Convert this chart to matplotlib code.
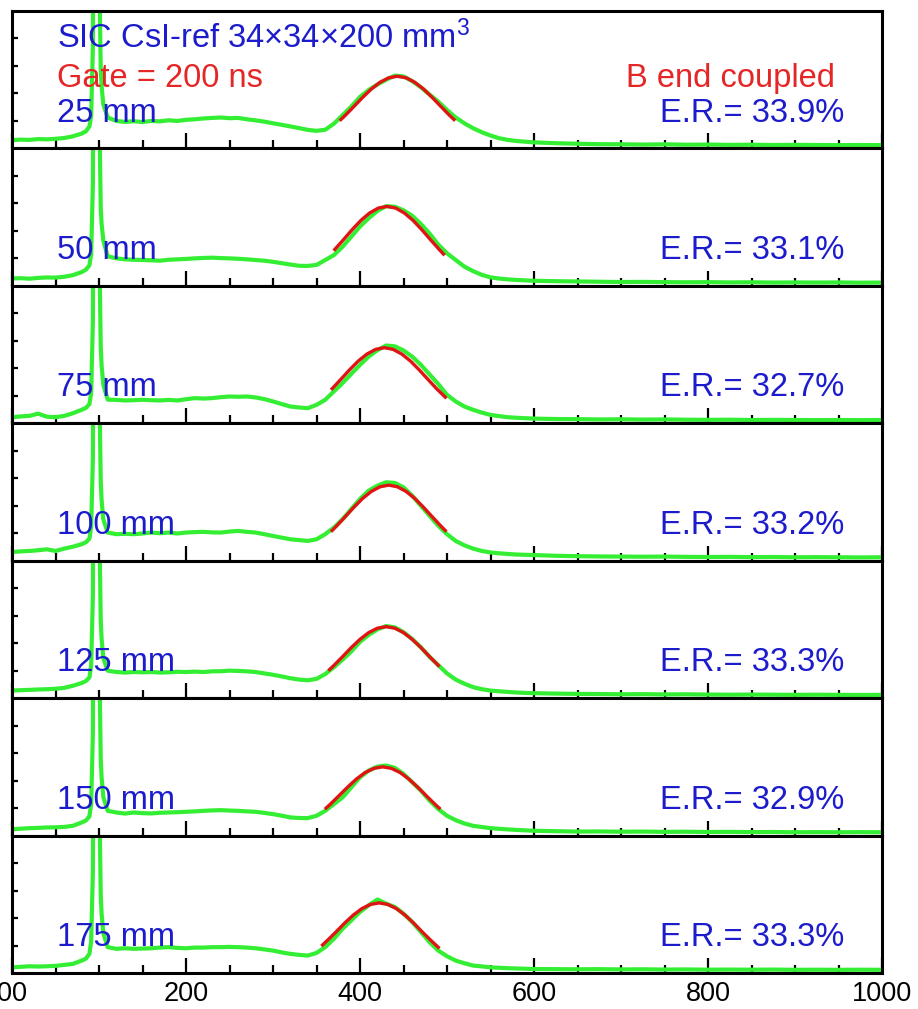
import matplotlib.pyplot as plt
from matplotlib.ticker import MultipleLocator

plt.rcParams['font.family'] = ['Liberation Sans', 'DejaVu Sans']
plt.rcParams['mathtext.fontset'] = 'custom'
plt.rcParams['mathtext.rm'] = 'Liberation Sans'
plt.rcParams['mathtext.default'] = 'regular'

# channel grid (finer around the 100-channel spike)
channels = [0, 10, 20, 30, 40, 50, 60, 70, 80,
            85, 89, 91, 93, 94, 100, 101, 102, 103, 105,
            110, 120, 130, 140, 150, 160, 170, 180, 190, 200,
            210, 220, 230, 240, 250, 260, 270, 280, 290, 300,
            310, 320, 330, 340, 350, 360, 370, 380, 390, 400,
            410, 420, 430, 440, 450, 460, 470, 480, 490, 500,
            510, 520, 530, 540, 550, 560, 570, 580, 590, 600,
            625, 650, 675, 700, 725, 750, 775, 800, 825, 850,
            875, 900, 925, 950, 975, 1000]

# normalised counts (panel height = 1)
counts_25 = [0.060, 0.064, 0.062, 0.068, 0.066, 0.070, 0.076, 0.088, 0.108,
             0.125, 0.16, 0.24, 0.75, 3.0, 3.0, 1.0, 0.58, 0.45, 0.32,
             0.225, 0.200, 0.193, 0.198, 0.192, 0.200, 0.197, 0.205, 0.200, 0.208,
             0.212, 0.218, 0.222, 0.225, 0.220, 0.222, 0.212, 0.204, 0.195, 0.183,
             0.172, 0.160, 0.148, 0.135, 0.128, 0.136, 0.180, 0.242, 0.305, 0.375,
             0.425, 0.465, 0.500, 0.530, 0.524, 0.490, 0.445, 0.392, 0.340, 0.280,
             0.225, 0.183, 0.147, 0.118, 0.094, 0.074, 0.062, 0.054, 0.049, 0.044,
             0.038, 0.034, 0.031, 0.030, 0.028, 0.030, 0.027, 0.028, 0.026, 0.027,
             0.025, 0.026, 0.025, 0.024, 0.025, 0.024]
counts_50 = [0.054, 0.056, 0.052, 0.058, 0.061, 0.060, 0.066, 0.078, 0.100,
             0.118, 0.15, 0.23, 0.75, 3.0, 3.0, 1.0, 0.57, 0.45, 0.33,
             0.215, 0.200, 0.193, 0.190, 0.188, 0.186, 0.183, 0.190, 0.193, 0.196,
             0.200, 0.203, 0.205, 0.202, 0.200, 0.197, 0.193, 0.188, 0.183, 0.175,
             0.165, 0.155, 0.146, 0.145, 0.152, 0.188, 0.224, 0.285, 0.358, 0.432,
             0.493, 0.545, 0.580, 0.576, 0.550, 0.510, 0.450, 0.380, 0.300, 0.237,
             0.188, 0.140, 0.107, 0.080, 0.062, 0.053, 0.047, 0.043, 0.040, 0.037,
             0.034, 0.032, 0.030, 0.028, 0.029, 0.027, 0.026, 0.027, 0.025, 0.026,
             0.024, 0.025, 0.024, 0.025, 0.023, 0.024]
counts_75 = [0.044, 0.050, 0.054, 0.070, 0.048, 0.044, 0.054, 0.073, 0.098,
             0.112, 0.14, 0.22, 0.75, 3.0, 3.0, 1.0, 0.56, 0.42, 0.28,
             0.172, 0.170, 0.166, 0.168, 0.171, 0.168, 0.166, 0.170, 0.166, 0.175,
             0.183, 0.180, 0.183, 0.190, 0.195, 0.193, 0.195, 0.188, 0.176, 0.159,
             0.140, 0.122, 0.115, 0.110, 0.134, 0.171, 0.232, 0.293, 0.360, 0.425,
             0.486, 0.532, 0.566, 0.560, 0.530, 0.485, 0.425, 0.355, 0.285, 0.207,
             0.159, 0.122, 0.098, 0.078, 0.061, 0.052, 0.044, 0.040, 0.037, 0.034,
             0.031, 0.030, 0.028, 0.029, 0.027, 0.028, 0.026, 0.025, 0.026, 0.024,
             0.025, 0.024, 0.023, 0.024, 0.023, 0.024]
counts_100 = [0.063, 0.068, 0.071, 0.076, 0.083, 0.071, 0.088, 0.102, 0.120,
              0.135, 0.16, 0.25, 0.75, 3.0, 3.0, 1.0, 0.58, 0.44, 0.30,
              0.205, 0.193, 0.196, 0.193, 0.198, 0.205, 0.200, 0.205, 0.198, 0.205,
              0.208, 0.210, 0.206, 0.205, 0.212, 0.217, 0.210, 0.205, 0.193, 0.180,
              0.168, 0.156, 0.150, 0.144, 0.156, 0.193, 0.241, 0.302, 0.376, 0.449,
              0.510, 0.546, 0.571, 0.566, 0.534, 0.473, 0.400, 0.327, 0.254, 0.193,
              0.144, 0.112, 0.088, 0.071, 0.060, 0.054, 0.049, 0.045, 0.043, 0.041,
              0.036, 0.033, 0.031, 0.030, 0.029, 0.030, 0.028, 0.027, 0.028, 0.026,
              0.027, 0.025, 0.026, 0.025, 0.024, 0.025]
counts_125 = [0.055, 0.058, 0.060, 0.063, 0.065, 0.068, 0.075, 0.090, 0.110,
              0.125, 0.15, 0.24, 0.75, 3.0, 3.0, 1.0, 0.57, 0.43, 0.29,
              0.200, 0.190, 0.186, 0.190, 0.188, 0.190, 0.186, 0.188, 0.192, 0.190,
              0.193, 0.190, 0.195, 0.196, 0.200, 0.198, 0.195, 0.190, 0.180, 0.170,
              0.158, 0.145, 0.135, 0.130, 0.140, 0.175, 0.225, 0.280, 0.340, 0.410,
              0.460, 0.500, 0.525, 0.515, 0.480, 0.430, 0.370, 0.300, 0.240, 0.180,
              0.135, 0.105, 0.080, 0.065, 0.055, 0.050, 0.045, 0.041, 0.038, 0.036,
              0.033, 0.031, 0.030, 0.028, 0.029, 0.027, 0.028, 0.026, 0.025, 0.026,
              0.025, 0.024, 0.025, 0.024, 0.023, 0.024]
counts_150 = [0.046, 0.050, 0.054, 0.056, 0.059, 0.060, 0.063, 0.071, 0.095,
              0.110, 0.14, 0.23, 0.75, 3.0, 3.0, 1.0, 0.56, 0.42, 0.28,
              0.180, 0.168, 0.160, 0.168, 0.163, 0.161, 0.166, 0.168, 0.170, 0.173,
              0.176, 0.180, 0.183, 0.185, 0.182, 0.180, 0.176, 0.173, 0.165, 0.156,
              0.145, 0.132, 0.128, 0.127, 0.144, 0.180, 0.229, 0.278, 0.351, 0.424,
              0.473, 0.502, 0.510, 0.493, 0.449, 0.388, 0.327, 0.254, 0.193, 0.144,
              0.112, 0.088, 0.071, 0.062, 0.054, 0.049, 0.045, 0.041, 0.038, 0.035,
              0.032, 0.029, 0.030, 0.028, 0.029, 0.027, 0.028, 0.026, 0.027, 0.025,
              0.026, 0.024, 0.025, 0.024, 0.025, 0.024]
counts_175 = [0.041, 0.045, 0.049, 0.047, 0.049, 0.052, 0.059, 0.066, 0.090,
              0.105, 0.14, 0.23, 0.75, 3.0, 3.0, 1.0, 0.57, 0.43, 0.29,
              0.188, 0.176, 0.180, 0.176, 0.178, 0.180, 0.185, 0.188, 0.183, 0.180,
              0.185, 0.185, 0.188, 0.188, 0.190, 0.188, 0.185, 0.180, 0.172, 0.163,
              0.150, 0.139, 0.132, 0.127, 0.146, 0.188, 0.249, 0.322, 0.383, 0.444,
              0.493, 0.535, 0.505, 0.480, 0.432, 0.371, 0.298, 0.224, 0.163, 0.122,
              0.090, 0.071, 0.054, 0.048, 0.041, 0.038, 0.035, 0.033, 0.031, 0.029,
              0.028, 0.027, 0.028, 0.026, 0.027, 0.025, 0.026, 0.024, 0.025, 0.024,
              0.025, 0.023, 0.024, 0.023, 0.024, 0.023]

# red photopeak fits
fit_x_25 = [378, 383, 393, 403, 413, 423, 433, 443, 453, 463, 473, 483, 493, 503, 508]
fit_y_25 = [0.210, 0.240, 0.305, 0.371, 0.432, 0.481, 0.514, 0.525, 0.514, 0.481, 0.432, 0.371, 0.305, 0.240, 0.210]
fit_x_50 = [371, 381, 391, 401, 411, 421, 431, 441, 451, 461, 471, 481, 491, 496]
fit_y_50 = [0.265, 0.336, 0.409, 0.476, 0.530, 0.566, 0.578, 0.566, 0.530, 0.476, 0.409, 0.336, 0.265, 0.231]
fit_x_75 = [368, 378, 388, 398, 408, 418, 428, 438, 448, 458, 468, 478, 488, 498]
fit_y_75 = [0.252, 0.320, 0.389, 0.453, 0.504, 0.538, 0.550, 0.538, 0.504, 0.453, 0.389, 0.320, 0.252, 0.190]
fit_x_100 = [368, 373, 383, 393, 403, 413, 423, 433, 443, 453, 463, 473, 483, 493, 498]
fit_y_100 = [0.220, 0.252, 0.320, 0.389, 0.453, 0.504, 0.538, 0.550, 0.538, 0.504, 0.453, 0.389, 0.320, 0.252, 0.220]
fit_x_125 = [365, 370, 380, 390, 400, 410, 420, 430, 440, 450, 460, 470, 480, 490]
fit_y_125 = [0.208, 0.238, 0.302, 0.368, 0.428, 0.477, 0.509, 0.520, 0.509, 0.477, 0.428, 0.368, 0.302, 0.238]
fit_x_150 = [361, 366, 376, 386, 396, 406, 416, 426, 436, 446, 456, 466, 476, 486, 491]
fit_y_150 = [0.200, 0.229, 0.291, 0.354, 0.412, 0.459, 0.489, 0.500, 0.489, 0.459, 0.412, 0.354, 0.291, 0.229, 0.200]
fit_x_175 = [357, 362, 372, 382, 392, 402, 412, 422, 432, 442, 452, 462, 472, 482, 490]
fit_y_175 = [0.204, 0.234, 0.296, 0.361, 0.420, 0.468, 0.499, 0.510, 0.499, 0.468, 0.420, 0.361, 0.296, 0.234, 0.187]

distances = ['25 mm', '50 mm', '75 mm', '100 mm', '125 mm', '150 mm', '175 mm']
energy_res = ['33.9%', '33.1%', '32.7%', '33.2%', '33.3%', '32.9%', '33.3%']
xtick_vals = [0, 200, 400, 600, 800, 1000]
xtick_labels = ['00', '200', '400', '600', '800', '1000']

panels = [
    (counts_25, fit_x_25, fit_y_25),
    (counts_50, fit_x_50, fit_y_50),
    (counts_75, fit_x_75, fit_y_75),
    (counts_100, fit_x_100, fit_y_100),
    (counts_125, fit_x_125, fit_y_125),
    (counts_150, fit_x_150, fit_y_150),
    (counts_175, fit_x_175, fit_y_175),
]

green = '#33ee33'
red = '#e01414'
blue = '#1c1ccc'
txt_red = '#e42626'

fig, axes = plt.subplots(7, 1, figsize=(9.18, 10.09), dpi=100, sharex=True)
fig.subplots_adjust(left=12/918, right=882/918, top=1-11/1009, bottom=1-973/1009, hspace=0)

for i, ax in enumerate(axes):
    counts, fx, fy = panels[i]
    ax.plot(channels, counts, color=green, lw=3.0, solid_joinstyle='round')
    ax.plot(fx, fy, color=red, lw=2.4)
    ax.set_xlim(0, 1000)
    ax.set_ylim(0, 1)
    ax.set_yticks([0.2, 0.4, 0.6, 0.8])
    ax.set_yticklabels([])
    ax.tick_params(axis='y', direction='in', length=4.5, width=1.6, left=True, right=False)
    ax.xaxis.set_major_locator(MultipleLocator(200))
    ax.xaxis.set_minor_locator(MultipleLocator(50))
    ax.tick_params(axis='x', which='major', direction='in', length=11, width=1.6,
                   top=False, labelsize=19.5, pad=6)
    ax.tick_params(axis='x', which='minor', direction='in', length=6, width=1.6, top=False)
    for s in ax.spines.values():
        s.set_linewidth(2.2)

    ax.text(0.052, 0.195, distances[i], transform=ax.transAxes, fontsize=23.5,
            color=blue, ha='left', va='baseline')
    ax.text(0.957, 0.195, 'E.R.= ' + energy_res[i], transform=ax.transAxes, fontsize=23.5,
            color=blue, ha='right', va='baseline')

axes[0].text(0.052, 0.728, r'SIC CsI-ref 34$\times$34$\times$200 mm$^3$',
             transform=axes[0].transAxes, fontsize=23.5, color=blue, ha='left', va='baseline')
axes[0].text(0.052, 0.445, 'Gate = 200 ns', transform=axes[0].transAxes,
             fontsize=23.5, color=txt_red, ha='left', va='baseline')
axes[0].text(0.946, 0.445, 'B end coupled', transform=axes[0].transAxes,
             fontsize=23.5, color=txt_red, ha='right', va='baseline')

axes[-1].set_xticks(xtick_vals)
axes[-1].set_xticklabels(xtick_labels)

plt.savefig('out.png', dpi=100, facecolor='white')
